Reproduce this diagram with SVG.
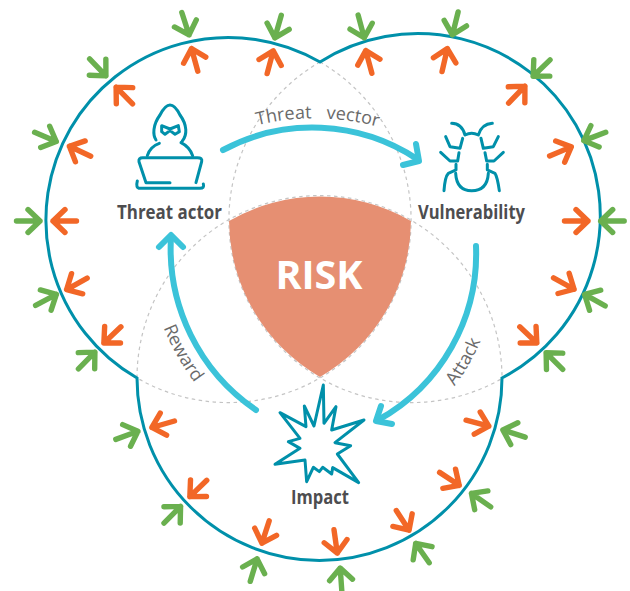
<svg xmlns="http://www.w3.org/2000/svg" xmlns:xlink="http://www.w3.org/1999/xlink" width="630" height="591" viewBox="0 0 630 591">
<style>
text{font-family:"Open Sans","Noto Sans","Liberation Sans",sans-serif}
.lbl{font-size:20px;font-weight:700;fill:#4d4d4f}
.cv{font-size:18px;fill:#6a6a6a}
.ic{fill:none;stroke:#0090aa;stroke-width:9;stroke-linecap:round;stroke-linejoin:round}
.cy{fill:none;stroke:#3bc3d9;stroke-width:6;stroke-linecap:round;stroke-linejoin:round}
.dash{fill:none;stroke:#c4c4c4;stroke-width:1.200;stroke-dasharray:3.5 3.5}
.g{stroke:#6ab04f;fill:none}
.o{stroke:#f26727;fill:none}
</style>
<defs>
<g id="a" stroke-width="5.400" stroke-linecap="round" stroke-linejoin="round"><path d="M-26.500 0H-3M-15-11.500L-3 0L-15 11.500"/></g>
<path id="pv" d="M240 130A245 245 0 0 1 395 132"/>
<path id="pa" d="M454 387Q470 366 481 340"/>
<path id="pr" d="M162 324Q175 357 197 386"/>
</defs>
<g id="venn">
<path class="dash" d="M320 62A182 182 0 0 1 137 378"/>
<path class="dash" d="M320 62A182 182 0 0 0 503 378"/>
<path class="dash" d="M137 378A182 182 0 0 1 502 378"/>
<path fill="none" stroke="#0090aa" stroke-width="3" d="M137 378A182.500 182.500 0 1 1 320 62A182.500 182.500 0 1 1 502 378A182.500 182.500 0 1 1 137 378Z"/>
</g>
<g id="risk">
<path fill="#e68f72" d="M229 221A182 182 0 0 1 411 221A182 182 0 0 1 320 377A182 182 0 0 1 229 221Z"/>
<text x="319" y="289" text-anchor="middle" font-size="39.500" font-weight="700" fill="#fff">RISK</text>
</g>
<g id="threat-actor">
<g transform="translate(120 90) scale(.3333)" class="ic">
<path d="M108 150C98 135 98 105 120 75C132 52 142 45 150 45C160 45 170 55 180 75C202 105 202 135 187 153"/>
<path d="M125 107L150 117L175 107L178 125L165 133L150 122L135 133L125 125Z"/>
<path d="M82 197Q90 170 118 160M218 197Q208 170 183 158"/>
<path d="M150 278H78L57 215Q55 203 68 203H232Q248 203 245 215L228 278"/>
<path d="M52 273Q46 295 60 295H240Q254 295 250 282"/>
</g>
<text class="lbl" x="117" y="219" textLength="105" lengthAdjust="spacingAndGlyphs">Threat actor</text>
</g>
<g id="vulnerability">
<g transform="translate(410 100) scale(.3333)" class="ic">
<path d="M125 70Q155 70 165 105Q185 95 205 105Q215 72 247 70"/>
<path d="M107 110L120 140L150 145L158 115M265 110L250 140L220 145L213 115"/>
<path d="M92 157L120 183L143 183L147 158M280 157L252 183L230 183L225 158"/>
<path d="M102 272Q105 230 115 220L138 210V193M268 272Q262 230 255 220L232 210V193"/>
<path d="M137 220Q140 272 185 272Q232 272 235 220"/>
</g>
<text class="lbl" x="418" y="219" textLength="107" lengthAdjust="spacingAndGlyphs">Vulnerability</text>
</g>
<g id="impact">
<g transform="translate(260 370) scale(.3333)" class="ic">
<path d="M190 45L192 160L228 110L215 180L312 150L225 218L272 227L232 252L296 338L218 293L215 312L188 292L178 305L160 292L140 335L135 270L45 283L120 235L85 215L120 205L60 128L138 170L133 108L162 168Z"/>
</g>
<text class="lbl" x="291" y="504" textLength="58" lengthAdjust="spacingAndGlyphs">Impact</text>
</g>
<g id="connectors">
<path class="cy" d="M223 150A190 190 0 0 1 417 159"/>
<path class="cy" d="M416 144L419 161L403 165"/>
<path class="cy" d="M476 246A190 190 0 0 1 378 420"/>
<path class="cy" d="M381 406L376 421L392 424"/>
<path class="cy" d="M256 410A195 195 0 0 1 171 237"/>
<path class="cy" d="M159 247L171 235L183 247"/>
<text class="cv" word-spacing="10"><textPath xlink:href="#pv" href="#pv" startOffset="50%" text-anchor="middle">Threat vector</textPath></text>
<text class="cv"><textPath xlink:href="#pa" href="#pa" startOffset="50%" text-anchor="middle">Attack</textPath></text>
<text class="cv"><textPath xlink:href="#pr" href="#pr" startOffset="50%" text-anchor="middle">Reward</textPath></text>
</g>
<g id="green-arrows" class="g">
<use href="#a" transform="translate(190 37.700) rotate(72)"/>
<use href="#a" transform="translate(108 78) rotate(46)"/>
<use href="#a" transform="translate(59 142.700) rotate(23)"/>
<use href="#a" transform="translate(43 221)"/>
<use href="#a" transform="translate(59 293) rotate(-28)"/>
<use href="#a" transform="translate(97 350) rotate(-45.500)"/>
<use href="#a" transform="translate(140.700 430.300) rotate(-20)"/>
<use href="#a" transform="translate(182.700 504.300) rotate(-45)"/>
<use href="#a" transform="translate(258 556) rotate(-73)"/>
<use href="#a" transform="translate(340 565) rotate(-94)"/>
<use href="#a" transform="translate(414 541) rotate(-125)"/>
<use href="#a" transform="translate(469 491.700) rotate(-145)"/>
<use href="#a" transform="translate(500 429) rotate(-162)"/>
<use href="#a" transform="translate(597.700 221) rotate(180)"/>
<use href="#a" transform="translate(582 293) rotate(-151)"/>
<use href="#a" transform="translate(544 350.700) rotate(-135)"/>
<use href="#a" transform="translate(581 141.700) rotate(159)"/>
<use href="#a" transform="translate(531 78.300) rotate(136)"/>
<use href="#a" transform="translate(451.700 37.700) rotate(104)"/>
<use href="#a" transform="translate(274 40.700) rotate(106)"/>
<use href="#a" transform="translate(365 40.700) rotate(75)"/>
</g>
<g id="orange-arrows" class="o">
<use href="#a" transform="translate(190.700 45.700) rotate(-105.500)"/>
<use href="#a" transform="translate(114 85) rotate(-134.500)"/>
<use href="#a" transform="translate(66.700 145) rotate(-155)"/>
<use href="#a" transform="translate(50 221) rotate(180)"/>
<use href="#a" transform="translate(64 291) rotate(151)"/>
<use href="#a" transform="translate(101.700 345) rotate(136.500)"/>
<use href="#a" transform="translate(149 428.300) rotate(164)"/>
<use href="#a" transform="translate(187.700 498.700) rotate(136)"/>
<use href="#a" transform="translate(261 546) rotate(108)"/>
<use href="#a" transform="translate(337.700 556) rotate(82)"/>
<use href="#a" transform="translate(410.700 532.700) rotate(57)"/>
<use href="#a" transform="translate(461.700 487) rotate(33.500)"/>
<use href="#a" transform="translate(491.700 427) rotate(15)"/>
<use href="#a" transform="translate(591 221)"/>
<use href="#a" transform="translate(576.700 290.700) rotate(29)"/>
<use href="#a" transform="translate(539 345) rotate(43.500)"/>
<use href="#a" transform="translate(574 145.700) rotate(-23)"/>
<use href="#a" transform="translate(527 84) rotate(-46)"/>
<use href="#a" transform="translate(448 45.700) rotate(-77)"/>
<use href="#a" transform="translate(274 48) rotate(-75)"/>
<use href="#a" transform="translate(365 47.700) rotate(-105)"/>
</g>
</svg>
